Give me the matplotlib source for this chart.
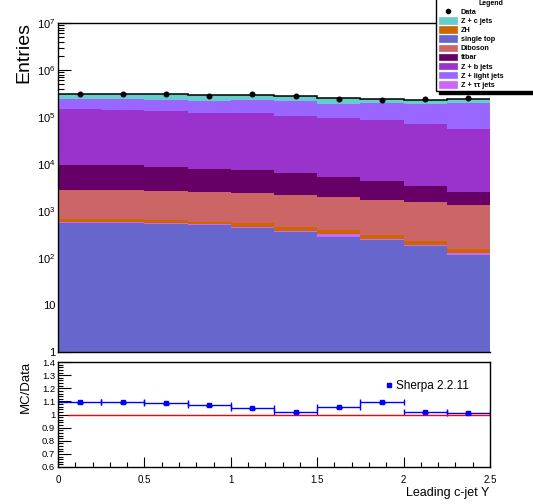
import numpy as np
import matplotlib
matplotlib.use("Agg")
import matplotlib.pyplot as plt
from matplotlib.patches import Patch
from matplotlib.lines import Line2D
from matplotlib.ticker import LogLocator, MultipleLocator, FuncFormatter, NullFormatter

plt.rcParams['font.family'] = ['Liberation Sans', 'DejaVu Sans']
plt.rcParams['mathtext.default'] = 'regular'

# binning in leading c-jet rapidity
edges = [0.0, 0.25, 0.5, 0.75, 1.0, 1.25, 1.5, 1.75, 2.0, 2.25, 2.5]

# stacked MC, bottom to top
single_top = [564, 560, 537, 497, 429, 363, 284, 242, 180, 117]
z_tautau = [20, 20, 20, 25, 35, 20, 45, 15, 10, 8]
zh = [100, 80, 95, 70, 85, 70, 65, 50, 40, 30]
diboson = [2110, 2150, 2040, 1920, 1820, 1740, 1600, 1440, 1300, 1185]
ttbar = [6580, 6580, 5930, 5440, 5070, 4150, 3300, 2540, 1870, 1160]
z_b = [138600, 131600, 125400, 115100, 114500, 100700, 88500, 80800, 67600, 53900]
z_light = [90000, 97000, 93000, 91000, 111000, 107000, 97200, 111900, 120000, 144600]
z_c = [78000, 78000, 89000, 73000, 65000, 66000, 59000, 45000, 39000, 41000]

data = [304000, 304000, 304000, 276000, 304000, 280000, 245000, 234000, 238000, 250000]

# MC/Data ratio panel
ratio = [1.092, 1.092, 1.084, 1.071, 1.048, 1.016, 1.056, 1.092, 1.016, 1.008]
ratio_err = [0.004, 0.004, 0.004, 0.004, 0.004, 0.004, 0.004, 0.004, 0.004, 0.004]

stack = [
    ('single top', single_top, '#6666cc'),
    ('Z + \u03c4\u03c4 jets', z_tautau, '#cc66ff'),
    ('ZH', zh, '#cc6600'),
    ('Diboson', diboson, '#cc6666'),
    ('ttbar', ttbar, '#660066'),
    ('Z + b jets', z_b, '#9933cc'),
    ('Z + light jets', z_light, '#9966ff'),
    ('Z + c jets', z_c, '#66cccc'),
]
legend_order = ['Z + c jets', 'ZH', 'single top', 'Diboson', 'ttbar',
                'Z + b jets', 'Z + light jets', 'Z + \u03c4\u03c4 jets']

edges = np.array(edges)
centers = 0.5 * (edges[:-1] + edges[1:])
halfw = 0.5 * np.diff(edges)

fig = plt.figure(figsize=(5.33, 5.04), dpi=100)
ax = fig.add_axes([58/533, 1-352/504, 432/533, 329/504])
axr = fig.add_axes([58/533, 1-467/504, 432/533, 105/504])

# ---- main panel
cum = np.zeros(10)
colors = {}
for name, vals, col in stack:
    new = cum + np.array(vals, dtype=float)
    ax.stairs(new, edges, baseline=np.maximum(cum, 1e-3), fill=True,
              color=col, linewidth=0)
    colors[name] = col
    cum = new
ax.stairs(cum, edges, baseline=None, color='black', linewidth=1.1)
ax.errorbar(centers, data, yerr=np.sqrt(data), fmt='o', ms=3.3,
            color='black', lw=1, capsize=0, zorder=5)

ax.set_yscale('log')
ax.set_ylim(1, 1e7)
ax.set_xlim(0, 2.5)
ax.set_axisbelow(True)

def logfmt(v, pos):
    e = int(round(np.log10(v)))
    if e == 0:
        return '1'
    if e == 1:
        return '10'
    return r'$10^{%d}$' % e

ax.yaxis.set_major_locator(LogLocator(base=10, numticks=10))
ax.yaxis.set_major_formatter(FuncFormatter(logfmt))
ax.yaxis.set_minor_locator(LogLocator(base=10, subs=np.arange(2, 10), numticks=20))
ax.yaxis.set_minor_formatter(NullFormatter())
ax.tick_params(axis='y', which='major', direction='in', length=9, width=0.8,
               labelsize=8, pad=2, right=False)
ax.tick_params(axis='y', which='minor', direction='in', length=4.5, width=0.8, right=False)
ax.tick_params(axis='x', which='both', bottom=False, top=False, labelbottom=False)
ax.spines['right'].set_visible(False)
for s in ['left', 'top', 'bottom']:
    ax.spines[s].set_linewidth(1)

fig.text(24/533, 1-22/504, 'Entries', rotation=90, ha='center', va='top', fontsize=14)

handles = [Line2D([], [], marker='o', ms=3, color='black', ls='none')]
labels = ['Data']
for name in legend_order:
    handles.append(Patch(facecolor=colors[name], edgecolor=colors[name], lw=0.5))
    labels.append(name)
leg = fig.legend(handles, labels, loc='upper left',
                 bbox_to_anchor=(436/533, 1-100/504, 110/533, 103/504), mode='expand',
                 title='Legend', title_fontproperties={'weight': 'bold', 'size': 5},
                 prop={'weight': 'bold', 'size': 5.2}, frameon=True, fancybox=False,
                 edgecolor='black', framealpha=1, borderpad=0.35, labelspacing=0.2,
                 handlelength=2.6, handleheight=1.0, handletextpad=0.5,
                 borderaxespad=0, shadow={'color': 'black', 'alpha': 1})
leg.get_frame().set_linewidth(1)

# ---- ratio panel
axr.errorbar(centers, ratio, xerr=halfw, yerr=ratio_err, fmt='s', ms=3.5,
             color='#0000ff', lw=1, capsize=2, capthick=1)
axr.hlines(1, 0.06, 2.5, color='#ff0000', lw=1)
axr.set_xlim(0, 2.5)
axr.set_ylim(0.6, 1.4)
axr.xaxis.set_major_locator(MultipleLocator(0.5))
axr.xaxis.set_minor_locator(MultipleLocator(0.1))
axr.yaxis.set_major_locator(MultipleLocator(0.1))
axr.yaxis.set_minor_locator(MultipleLocator(0.02))
fmt = FuncFormatter(lambda v, p: '%g' % round(v, 2))
axr.xaxis.set_major_formatter(fmt)
axr.yaxis.set_major_formatter(fmt)
axr.tick_params(which='major', direction='in', length=7, width=0.8, labelsize=7,
                top=False, right=False)
axr.tick_params(axis='x', which='major', pad=6)
axr.tick_params(axis='y', which='major', length=9, pad=2, labelsize=6.8)
axr.tick_params(which='minor', direction='in', length=3.5, width=0.8, top=False, right=False)
for s in axr.spines.values():
    s.set_linewidth(1)

axr.legend([Line2D([], [], marker='s', ms=3.5, color='#0000ff', ls='none')],
           ['Sherpa 2.2.11'], loc='center left', bbox_to_anchor=(0.755, 0.77),
           frameon=False, fontsize=8.5, handlelength=0.8, handletextpad=0.2,
           borderpad=0, borderaxespad=0)

fig.text(26/533, 1-361/504, 'MC/Data', rotation=90, ha='center', va='top', fontsize=9.5)
fig.text(489/533, 1-496/504, 'Leading c-jet Y', ha='right', va='baseline', fontsize=9)

fig.savefig('out.png', dpi=100)
